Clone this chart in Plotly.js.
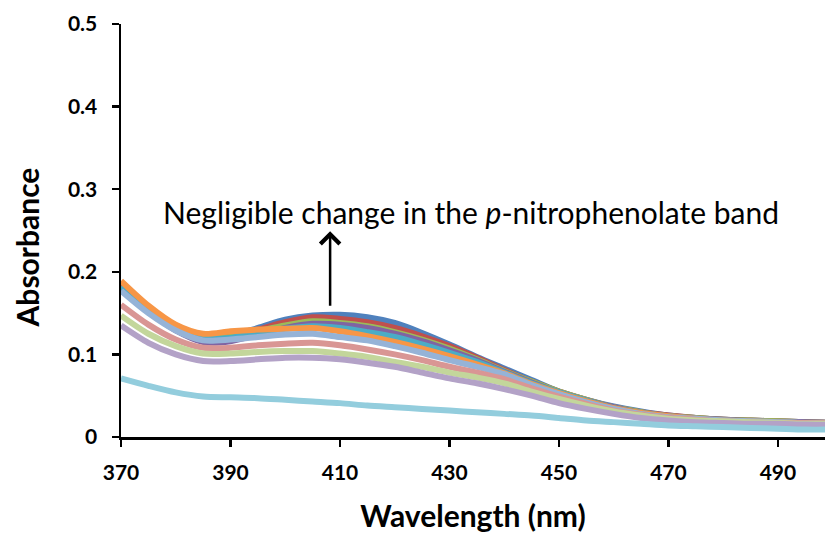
<!DOCTYPE html>
<html>
<head>
<meta charset="utf-8">
<script src="https://cdn.plot.ly/plotly-3.0.1.min.js"></script>
<style>html,body{margin:0;padding:0;background:#fff}#chart{width:825px;height:533px}</style>
</head>
<body>
<div id="chart"></div>
<script>
// Wavelength grid (nm)
var wavelength = [370,375,380,385,390,395,400,405,410,415,420,425,430,435,440,445,450,455,460,465,470,475,480,485,490,495,500];

// Absorbance series
var s1  = [0.184,0.157,0.135,0.122,0.123,0.132,0.142,0.147,0.148,0.145,0.138,0.126,0.112,0.097,0.083,0.069,0.055,0.045,0.037,0.031,0.026,0.023,0.021,0.020,0.019,0.018,0.017];
var s2  = [0.183,0.156,0.134,0.121,0.122,0.130,0.139,0.145,0.143,0.139,0.132,0.122,0.110,0.096,0.081,0.067,0.055,0.045,0.036,0.030,0.026,0.023,0.021,0.020,0.019,0.018,0.017];
var s3  = [0.182,0.155,0.133,0.120,0.121,0.128,0.135,0.140,0.138,0.134,0.127,0.118,0.107,0.094,0.080,0.067,0.055,0.045,0.036,0.030,0.025,0.023,0.021,0.020,0.019,0.018,0.017];
var s4  = [0.179,0.152,0.129,0.115,0.116,0.124,0.132,0.137,0.136,0.132,0.125,0.116,0.105,0.093,0.079,0.066,0.054,0.044,0.036,0.029,0.025,0.022,0.021,0.019,0.018,0.018,0.017];
var s5  = [0.182,0.155,0.133,0.120,0.120,0.126,0.131,0.134,0.132,0.127,0.121,0.112,0.102,0.091,0.078,0.065,0.054,0.044,0.035,0.029,0.025,0.022,0.020,0.019,0.018,0.017,0.017];
var s6  = [0.189,0.159,0.136,0.125,0.128,0.130,0.131,0.132,0.128,0.122,0.115,0.107,0.098,0.088,0.077,0.064,0.053,0.043,0.035,0.029,0.025,0.022,0.020,0.019,0.018,0.017,0.017];
var s7  = [0.177,0.150,0.129,0.117,0.118,0.121,0.124,0.125,0.121,0.117,0.110,0.102,0.093,0.085,0.076,0.063,0.052,0.042,0.034,0.028,0.024,0.022,0.020,0.019,0.018,0.017,0.016];
var s8  = [0.160,0.136,0.118,0.108,0.108,0.111,0.113,0.114,0.111,0.106,0.100,0.093,0.085,0.078,0.070,0.059,0.049,0.040,0.032,0.027,0.023,0.021,0.019,0.018,0.017,0.017,0.016];
var s9  = [0.147,0.125,0.110,0.101,0.101,0.103,0.104,0.104,0.101,0.097,0.091,0.085,0.078,0.072,0.065,0.055,0.046,0.038,0.031,0.026,0.022,0.020,0.019,0.018,0.017,0.016,0.016];
var s10 = [0.135,0.114,0.100,0.092,0.092,0.094,0.096,0.096,0.094,0.090,0.085,0.078,0.071,0.065,0.058,0.050,0.041,0.034,0.028,0.023,0.020,0.018,0.017,0.016,0.016,0.015,0.015];
var s11 = [0.071,0.062,0.054,0.049,0.048,0.047,0.045,0.043,0.041,0.038,0.036,0.034,0.032,0.030,0.028,0.026,0.023,0.020,0.018,0.016,0.014,0.013,0.012,0.011,0.010,0.009,0.009];

var seriesList = [s1,s2,s3,s4,s5,s6,s7,s8,s9,s10,s11];
var colors = ['#4F81BD','#C0504D','#9BBB59','#8064A2','#4BACC6','#F79646','#95B3D7','#D99694','#C3D69B','#B3A2C7','#93CDDD'];

var xTicks = [370,390,410,430,450,470,490];
var yTicks = [0,0.1,0.2,0.3,0.4,0.5];
var yTickText = ['0','0.1','0.2','0.3','0.4','0.5'];

var traces = seriesList.map(function(s, i){
  return {x: wavelength, y: s, type: 'scatter', mode: 'lines',
    line: {color: colors[i], width: 6, shape: 'spline', smoothing: 0.8},
    hoverinfo: 'skip', showlegend: false};
});

var FONT = 'Lato, "Open Sans", sans-serif';
var layout = {
  width: 825, height: 533,
  margin: {l: 121, r: 0, t: 24, b: 96},
  paper_bgcolor: '#fff', plot_bgcolor: '#fff',
  showlegend: false,
  xaxis: {
    range: [370, 498.6], tickvals: xTicks, ticktext: xTicks.map(String),
    showgrid: false, zeroline: false, showline: true, linecolor: '#000', linewidth: 2.5,
    ticks: 'outside', ticklen: 7, tickwidth: 2.5, tickcolor: '#000', ticklabelstandoff: 8,
    tickfont: {family: FONT, size: 21, weight: 'bold', color: '#000'},
    title: {text: 'Wavelength (nm)', font: {family: FONT, size: 30, weight: 'bold', color: '#000'}, standoff: 25}
  },
  yaxis: {
    range: [0, 0.5], tickvals: yTicks, ticktext: yTickText,
    showgrid: false, zeroline: false, showline: true, linecolor: '#000', linewidth: 2.5,
    ticks: 'outside', ticklen: 7, tickwidth: 2.5, tickcolor: '#000', ticklabelstandoff: 10,
    tickfont: {family: FONT, size: 21, weight: 'bold', color: '#000'}
  },
  annotations: [
    {x: -0.1335, y: 0.459, xref: 'paper', yref: 'paper', xanchor: 'center', yanchor: 'middle',
     showarrow: false, textangle: -90,
     text: 'Absorbance', font: {family: FONT, size: 30, weight: 'bold', color: '#000'}},
    {x: 433.9, y: 0.273, xref: 'x', yref: 'y', showarrow: false,
     text: 'Negligible change in the <i>p</i>-nitrophenolate band',
     font: {family: FONT, size: 30, color: '#000'}},
    {x: 408.2, y: 0.249, ax: 408.2, ay: 0.157, xref: 'x', yref: 'y', axref: 'x', ayref: 'y',
     text: '', showarrow: true, arrowhead: 4, arrowsize: 1.5, arrowwidth: 2.5, arrowcolor: '#000'}
  ]
};

Plotly.newPlot('chart', traces, layout, {displayModeBar: false, staticPlot: true});
</script>
</body>
</html>
